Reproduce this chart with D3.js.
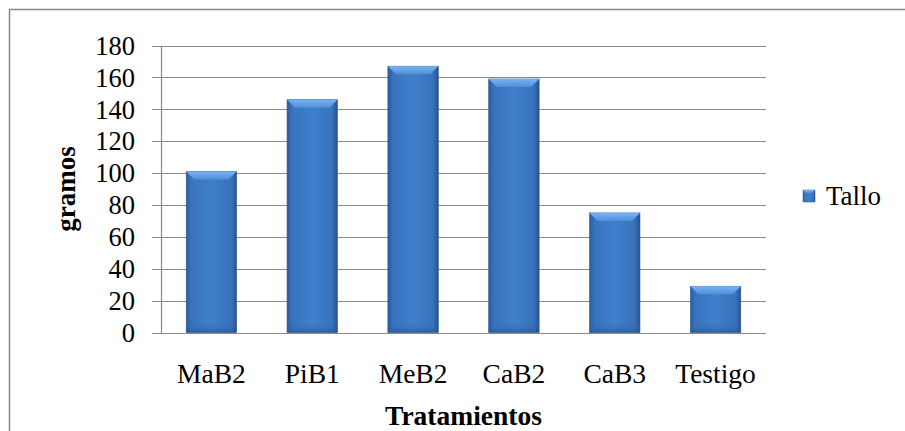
<!DOCTYPE html>
<html>
<head>
<meta charset="utf-8">
<script src="https://cdn.jsdelivr.net/npm/d3@7"></script>
<style>
  html, body { margin: 0; padding: 0; background: #fff; }
  svg { display: block; }
</style>
</head>
<body>
<svg id="chart" width="905" height="431"></svg>
<script>
const categories = ["MaB2", "PiB1", "MeB2", "CaB2", "CaB3", "Testigo"];
const values = [101, 146, 167, 159, 75, 29];
const yTicks = [0, 20, 40, 60, 80, 100, 120, 140, 160, 180];
const seriesName = "Tallo";
const xTitle = "Tratamientos";
const yTitle = "gramos";

const FONT = "'Liberation Serif', 'DejaVu Serif', 'Times New Roman', Times, serif";
const svg = d3.select("#chart");
const W = 905, H = 431;
const plot = { left: 161, right: 766, top: 45.5, bottom: 332.5 };

// outer border (only top/left visible in frame)
svg.append("rect")
  .attr("x", 9.5).attr("y", 9.5)
  .attr("width", W + 20).attr("height", H + 20)
  .attr("fill", "none").attr("stroke", "#868686").attr("stroke-width", 1.5);

const x = d3.scaleBand().domain(categories)
  .range([plot.left, plot.right]).paddingInner(0.5).paddingOuter(0.25);
const y = d3.scaleLinear().domain([0, 180]).range([plot.bottom, plot.top]);

const defs = svg.append("defs");
const gBody = defs.append("linearGradient").attr("id", "gBody")
  .attr("x1", 0).attr("x2", 1).attr("y1", 0).attr("y2", 0);
gBody.append("stop").attr("offset", 0).attr("stop-color", "#2c5c9c");
gBody.append("stop").attr("offset", 0.1).attr("stop-color", "#3873bd");
gBody.append("stop").attr("offset", 0.5).attr("stop-color", "#3f7fcc");
gBody.append("stop").attr("offset", 0.9).attr("stop-color", "#3872bb");
gBody.append("stop").attr("offset", 1).attr("stop-color", "#284f88");
const gTop = defs.append("linearGradient").attr("id", "gTop")
  .attr("x1", 0).attr("x2", 0).attr("y1", 0).attr("y2", 1);
gTop.append("stop").attr("offset", 0).attr("stop-color", "#78b4f2");
gTop.append("stop").attr("offset", 1).attr("stop-color", "#4f8fdb");
const gBot = defs.append("linearGradient").attr("id", "gBot")
  .attr("x1", 0).attr("x2", 0).attr("y1", 0).attr("y2", 1);
gBot.append("stop").attr("offset", 0).attr("stop-color", "#3a72b8").attr("stop-opacity", 0);
gBot.append("stop").attr("offset", 1).attr("stop-color", "#24508a").attr("stop-opacity", 0.6);

// gridlines + y ticks
svg.append("g").selectAll("line").data(yTicks).join("line")
  .attr("x1", plot.left - 9).attr("x2", plot.right)
  .attr("y1", d => Math.round(y(d)) + 0.5).attr("y2", d => Math.round(y(d)) + 0.5)
  .attr("stroke", "#8a8a8a").attr("stroke-width", 1.2);

// y axis line
svg.append("line")
  .attr("x1", plot.left + 0.5).attr("x2", plot.left + 0.5)
  .attr("y1", Math.round(y(180)) + 0.5).attr("y2", Math.round(y(0)) + 0.5)
  .attr("stroke", "#8a8a8a").attr("stroke-width", 1.2);

// y tick labels
svg.append("g").selectAll("text").data(yTicks).join("text")
  .attr("x", 135).attr("y", d => y(d))
  .attr("dy", "0.35em")
  .attr("text-anchor", "end")
  .attr("font-family", FONT).attr("font-size", 26.5)
  .text(d => d);

// bars
const bars = svg.append("g").selectAll("g").data(values).join("g");
const bw = x.bandwidth();
const bev = 8;
bars.append("rect")
  .attr("x", (d, i) => x(categories[i]))
  .attr("y", d => y(d))
  .attr("width", bw)
  .attr("height", d => y(0) - y(d))
  .attr("fill", "url(#gBody)")
  .attr("stroke", "#2b5a96").attr("stroke-width", 0.6);
bars.append("rect")
  .attr("x", (d, i) => x(categories[i]))
  .attr("y", d => y(0) - 10)
  .attr("width", bw)
  .attr("height", 10)
  .attr("fill", "url(#gBot)");
bars.append("path")
  .attr("d", (d, i) => {
    const x0 = x(categories[i]), x1 = x0 + bw, t = y(d);
    return `M${x0},${t} L${x1},${t} L${x1 - bev},${t + bev} L${x0 + bev},${t + bev} Z`;
  })
  .attr("fill", "url(#gTop)");

// x labels
svg.append("g").selectAll("text").data(categories).join("text")
  .attr("x", d => x(d) + bw / 2).attr("y", 383)
  .attr("text-anchor", "middle")
  .attr("font-family", FONT).attr("font-size", 27.5)
  .text(d => d);

// axis titles
svg.append("text")
  .attr("x", (plot.left + plot.right) / 2).attr("y", 425)
  .attr("text-anchor", "middle")
  .attr("font-family", FONT).attr("font-size", 27.5).attr("font-weight", "bold")
  .text(xTitle);
svg.append("text")
  .attr("transform", `translate(75,${(plot.top + plot.bottom) / 2}) rotate(-90)`)
  .attr("text-anchor", "middle")
  .attr("font-family", FONT).attr("font-size", 27).attr("font-weight", "bold")
  .text(yTitle);

// legend
const lg = svg.append("g");
lg.append("rect").attr("x", 803).attr("y", 190).attr("width", 12).attr("height", 12)
  .attr("fill", "url(#gBody)").attr("stroke", "#2b5a96").attr("stroke-width", 0.5);
lg.append("path").attr("d", "M803,190 L815,190 L812,193 L806,193 Z").attr("fill", "url(#gTop)");
lg.append("text").attr("x", 826).attr("y", 205)
  .attr("font-family", FONT).attr("font-size", 27).text(seriesName);
</script>
</body>
</html>
